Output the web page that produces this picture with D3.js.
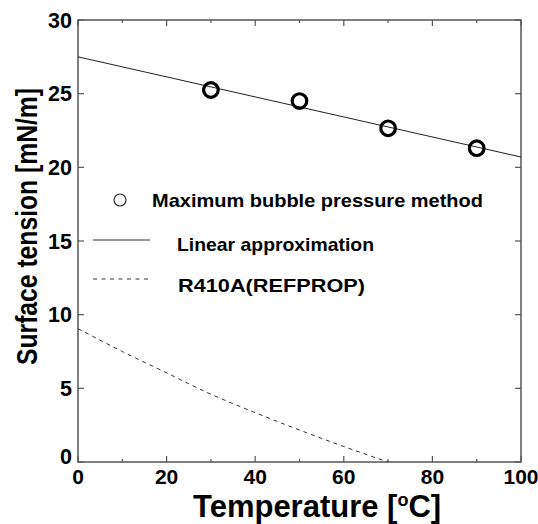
<!DOCTYPE html>
<html><head><meta charset="utf-8">
<script src="https://cdn.jsdelivr.net/npm/d3@7"></script>
<style>
html,body{margin:0;padding:0;background:#fff;}
svg{display:block;font-family:"Liberation Sans",Arial,sans-serif;}
</style></head>
<body><svg id="c" width="538" height="524"></svg>
<script>
// ---- data ----
const measTemps = [30, 50, 70, 90];
const measTension = [25.25, 24.5, 22.65, 21.3];
const linearTemps = [0, 100];
const linearTension = [27.5, 20.7];
const refTemps = [0, 10, 20, 30, 40, 50, 60, 70];
const refTension = [9.05, 7.5, 6.05, 4.6, 3.35, 2.17, 1.05, 0.0];
const xTicks = [0, 20, 40, 60, 80, 100];
const xMinorTicks = [10, 30, 50, 70, 90];
const yTicks = [0, 5, 10, 15, 20, 25, 30];
const legendLabels = ["Maximum bubble pressure method", "Linear approximation", "R410A(REFPROP)"];

const svg = d3.select("#c");
const x = d3.scaleLinear().domain([0, 100]).range([78, 521]);
const y = d3.scaleLinear().domain([0, 30]).range([462, 20]);

const axisColor = "#555";
// frame
svg.append("rect").attr("x", x(0)).attr("y", y(30))
  .attr("width", x(100) - x(0)).attr("height", y(0) - y(30))
  .attr("fill", "none").attr("stroke", axisColor).attr("stroke-width", 1.5);

// ticks (inward) all sides
const tg = svg.append("g").attr("stroke", axisColor).attr("stroke-width", 1.2);
xTicks.forEach(t => {
  tg.append("line").attr("x1", x(t)).attr("x2", x(t)).attr("y1", y(0)).attr("y2", y(0) - 6);
  tg.append("line").attr("x1", x(t)).attr("x2", x(t)).attr("y1", y(30)).attr("y2", y(30) + 6);
});
xMinorTicks.forEach(t => {
  tg.append("line").attr("x1", x(t)).attr("x2", x(t)).attr("y1", y(0)).attr("y2", y(0) - 3);
  tg.append("line").attr("x1", x(t)).attr("x2", x(t)).attr("y1", y(30)).attr("y2", y(30) + 3);
});
yTicks.forEach(t => {
  tg.append("line").attr("x1", x(0)).attr("x2", x(0) + 6).attr("y1", y(t)).attr("y2", y(t));
  tg.append("line").attr("x1", x(100)).attr("x2", x(100) - 6).attr("y1", y(t)).attr("y2", y(t));
});

// tick labels
svg.append("g").selectAll("text").data(xTicks).join("text")
  .attr("x", d => x(d)).attr("y", 484)
  .attr("text-anchor", "middle").attr("font-size", 21).attr("font-weight", "bold")
  .text(d => d);
svg.append("g").selectAll("text").data(yTicks).join("text")
  .attr("x", 72).attr("y", d => y(d) + (d === 0 ? -6 : 0)).attr("dy", "0.36em")
  .attr("text-anchor", "end").attr("font-size", 21.5).attr("font-weight", "bold")
  .text(d => d);

// axis titles
const xt = svg.append("text").attr("x", 193).attr("y", 517)
  .attr("font-size", 31).attr("font-weight", "bold");
xt.append("tspan").text("Temperature [");
xt.append("tspan").attr("font-size", 18).attr("dy", -11).text("o");
xt.append("tspan").attr("dy", 11).text("C]");

svg.append("text")
  .attr("transform", `translate(37,${(88 + 365) / 2}) rotate(-90)`)
  .attr("text-anchor", "middle").attr("font-size", 29).attr("font-weight", "bold")
  .attr("textLength", 277).attr("lengthAdjust", "spacingAndGlyphs")
  .text("Surface tension [mN/m]");

// linear line
const line = d3.line().x(d => x(d[0])).y(d => y(d[1]));
svg.append("path").datum(linearTemps.map((t, i) => [t, linearTension[i]]))
  .attr("d", line).attr("fill", "none").attr("stroke", "#222").attr("stroke-width", 1);

// REFPROP dashed curve
svg.append("path").datum(refTemps.map((t, i) => [t, refTension[i]]))
  .attr("d", d3.line().curve(d3.curveMonotoneX).x(d => x(d[0])).y(d => y(d[1])))
  .attr("fill", "none").attr("stroke", "#333").attr("stroke-width", 1)
  .attr("stroke-dasharray", "4,4");

// measured points
svg.append("g").selectAll("circle").data(measTemps).join("circle")
  .attr("cx", d => x(d)).attr("cy", (d, i) => y(measTension[i])).attr("r", 7.3)
  .attr("fill", "none").attr("stroke", "#000").attr("stroke-width", 3.2);

// legend
const lg = svg.append("g");
lg.append("circle").attr("cx", 120).attr("cy", 200).attr("r", 6)
  .attr("fill", "none").attr("stroke", "#333").attr("stroke-width", 1.2);
lg.append("text").attr("x", 152).attr("y", 206.5).attr("font-size", 18.5).attr("font-weight", "bold")
  .attr("textLength", 331).attr("lengthAdjust", "spacingAndGlyphs").text(legendLabels[0]);
lg.append("line").attr("x1", 93).attr("x2", 150).attr("y1", 240).attr("y2", 240)
  .attr("stroke", "#333").attr("stroke-width", 1);
lg.append("text").attr("x", 177).attr("y", 251).attr("font-size", 18.5).attr("font-weight", "bold")
  .attr("textLength", 197).attr("lengthAdjust", "spacingAndGlyphs").text(legendLabels[1]);
lg.append("line").attr("x1", 93).attr("x2", 150).attr("y1", 279).attr("y2", 279)
  .attr("stroke", "#333").attr("stroke-width", 1).attr("stroke-dasharray", "4,4.5");
lg.append("text").attr("x", 178).attr("y", 291.5).attr("font-size", 19).attr("font-weight", "bold")
  .attr("textLength", 187).attr("lengthAdjust", "spacingAndGlyphs").text(legendLabels[2]);
</script></body></html>
